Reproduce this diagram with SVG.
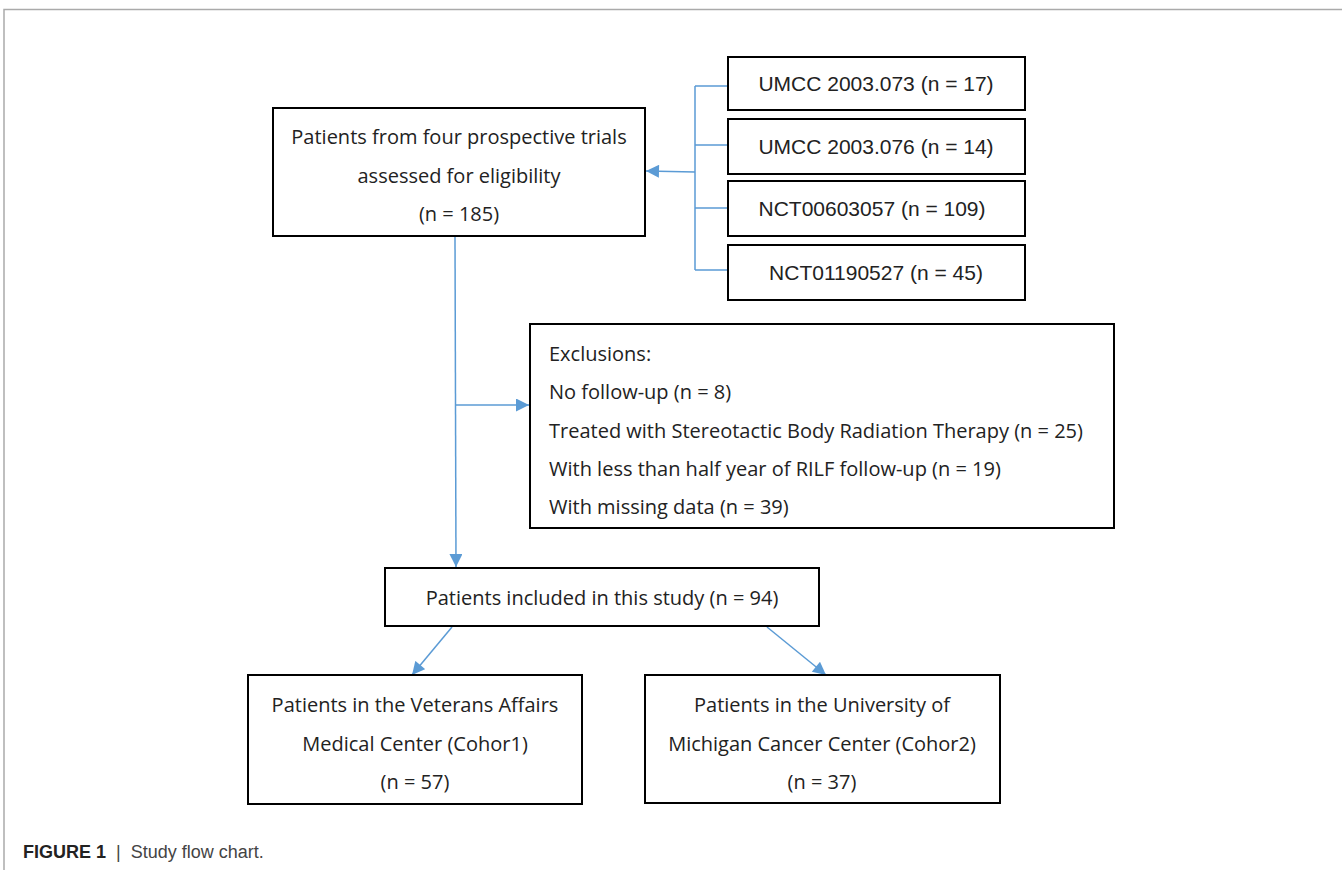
<svg xmlns="http://www.w3.org/2000/svg" width="1342" height="870" viewBox="0 0 1342 870">
<defs>
<marker id="ah" viewBox="0 0 10 10" refX="10" refY="5" markerWidth="14" markerHeight="13" markerUnits="userSpaceOnUse" orient="auto">
<path d="M0,0 L10,5 L0,10 z" fill="#5b9bd5"/>
</marker>
<style>
.box{fill:#fff;stroke:#000;stroke-width:2}
.t{font-family:"Open Sans","Noto Sans",sans-serif;font-size:20px;fill:#222;text-anchor:middle}
.tl{font-family:"Open Sans","Noto Sans",sans-serif;font-size:20px;fill:#222}
.a{font-family:"Liberation Sans",Arial,sans-serif;font-size:21px;fill:#222;text-anchor:middle}
.c{stroke:#5b9bd5;stroke-width:1.5;fill:none}
.frame{stroke:#aaa;stroke-width:1.5;fill:none}
</style>
</defs>
<rect width="1342" height="870" fill="#fff"/>
<path class="frame" d="M4,870 V9.5 H1342"/>
<g id="connectors">
<path class="c" d="M695,86 V270 M695,86 H728 M695,145 H728 M695,208 H728 M695,270 H728"/>
<path class="c" d="M695,172 L646,171" marker-end="url(#ah)"/>
<path class="c" d="M455,237 L456,567" marker-end="url(#ah)"/>
<path class="c" d="M456,405 H529" marker-end="url(#ah)"/>
<path class="c" d="M452,627 L412,675" marker-end="url(#ah)"/>
<path class="c" d="M767,627 L826,675" marker-end="url(#ah)"/>
</g>
<g id="n_main">
<rect class="box" x="273" y="108" width="372" height="128"/>
<text class="t" x="459" y="144">Patients from four prospective trials</text>
<text class="t" x="459" y="183">assessed for eligibility</text>
<text class="t" x="459" y="221">(n = 185)</text>
</g>
<g id="n_umcc073">
<rect class="box" x="728" y="57" width="297" height="53"/>
<text class="a" x="876" y="91">UMCC 2003.073 (n = 17)</text>
</g>
<g id="n_umcc076">
<rect class="box" x="728" y="119" width="297" height="55"/>
<text class="a" x="876" y="154">UMCC 2003.076 (n = 14)</text>
</g>
<g id="n_nct006">
<rect class="box" x="728" y="181" width="297" height="55"/>
<text class="a" x="872" y="216">NCT00603057 (n = 109)</text>
</g>
<g id="n_nct011">
<rect class="box" x="728" y="245" width="297" height="55"/>
<text class="a" x="876" y="280">NCT01190527 (n = 45)</text>
</g>
<g id="n_excl">
<rect class="box" x="530" y="324" width="584" height="204"/>
<text class="tl" x="549" y="361">Exclusions:</text>
<text class="tl" x="549" y="399">No follow-up (n = 8)</text>
<text class="tl" x="549" y="438">Treated with Stereotactic Body Radiation Therapy (n = 25)</text>
<text class="tl" x="549" y="476">With less than half year of RILF follow-up (n = 19)</text>
<text class="tl" x="549" y="514">With missing data (n = 39)</text>
</g>
<g id="n_incl">
<rect class="box" x="385" y="568" width="434" height="58"/>
<text class="t" x="602" y="605">Patients included in this study (n = 94)</text>
</g>
<g id="n_coh1">
<rect class="box" x="248" y="675" width="334" height="129"/>
<text class="t" x="415" y="712">Patients in the Veterans Affairs</text>
<text class="t" x="415" y="751">Medical Center (Cohor1)</text>
<text class="t" x="415" y="789">(n = 57)</text>
</g>
<g id="n_coh2">
<rect class="box" x="645" y="675" width="355" height="128"/>
<text class="t" x="822" y="712">Patients in the University of</text>
<text class="t" x="822" y="751">Michigan Cancer Center (Cohor2)</text>
<text class="t" x="822" y="789">(n = 37)</text>
</g>
<g id="caption">
<text x="23" y="858" xml:space="preserve" style="font-family:'Liberation Sans',Arial,sans-serif;font-size:18px;fill:#222"><tspan font-weight="bold">FIGURE 1</tspan><tspan fill="#444">  |  Study flow chart.</tspan></text>
</g>
</svg>
